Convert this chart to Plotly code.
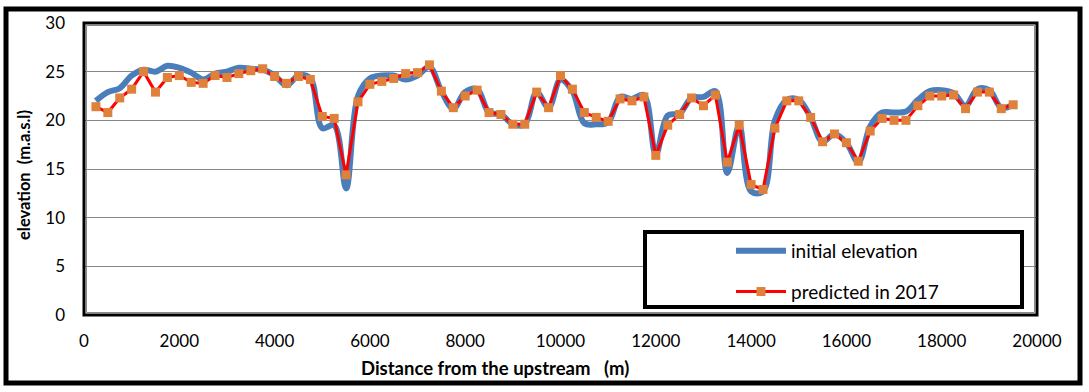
import plotly.graph_objects as go

distance_m = [250, 500, 750, 1000, 1250, 1500, 1750, 2000, 2250, 2500,
              2750, 3000, 3250, 3500, 3750, 4000, 4250, 4500, 4750, 5000,
              5250, 5500, 5750, 6000, 6250, 6500, 6750, 7000, 7250, 7500,
              7750, 8000, 8250, 8500, 8750, 9000, 9250, 9500, 9750, 10000,
              10250, 10500, 10750, 11000, 11250, 11500, 11750, 12000, 12250, 12500,
              12750, 13000, 13250, 13500, 13750, 14000, 14250, 14500, 14750, 15000,
              15250, 15500, 15750, 16000, 16250, 16500, 16750, 17000, 17250, 17500,
              17750, 18000, 18250, 18500, 18750, 19000, 19250, 19500]

initial_elevation = [22.0, 22.9, 23.3, 24.6, 25.2, 25.0, 25.6, 25.4, 24.9, 24.2,
                     24.8, 25.0, 25.4, 25.3, 25.2, 24.6, 23.6, 24.6, 24.3, 19.2,
                     19.5, 13.0, 22.5, 24.3, 24.6, 24.6, 24.2, 24.6, 25.5, 23.0,
                     21.2, 22.9, 23.2, 20.8, 20.6, 19.6, 19.6, 22.9, 21.3, 24.2,
                     23.0, 19.7, 19.6, 19.8, 22.4, 22.2, 22.6, 16.5, 20.5, 20.7,
                     22.3, 22.4, 23.0, 14.6, 19.5, 12.7, 12.7, 20.0, 22.1, 22.1,
                     20.3, 17.8, 18.6, 17.7, 15.7, 19.4, 20.8, 20.8, 20.9, 22.1,
                     23.0, 23.1, 22.8, 21.5, 23.2, 23.1, 21.3, 21.6]

predicted_2017 = [21.4, 20.8, 22.3, 23.2, 25.0, 22.9, 24.4, 24.6, 23.9, 23.8,
                  24.6, 24.4, 24.8, 25.1, 25.3, 24.5, 23.8, 24.5, 24.2, 20.4,
                  20.2, 14.4, 21.9, 23.7, 24.0, 24.3, 24.8, 24.9, 25.7, 23.0,
                  21.3, 22.5, 23.1, 20.8, 20.6, 19.6, 19.6, 22.9, 21.3, 24.6,
                  23.2, 20.8, 20.3, 19.9, 22.2, 22.0, 22.4, 16.4, 19.5, 20.6,
                  22.3, 21.5, 22.6, 15.7, 19.5, 13.4, 12.9, 19.2, 22.0, 22.0,
                  20.3, 17.8, 18.6, 17.7, 15.8, 18.9, 20.2, 20.0, 20.0, 21.5,
                  22.5, 22.5, 22.6, 21.2, 22.9, 22.9, 21.2, 21.6]

x_ticks = [0, 2000, 4000, 6000, 8000, 10000, 12000, 14000, 16000, 18000, 20000]
y_ticks = [0, 5, 10, 15, 20, 25, 30]

FONT = "Lato"
W, H = 1089, 392
L, R, T, B = 84, 1037, 23, 315
pw, ph = R - L, B - T

def px(xp):
    return (xp - L) / pw

def py(yp):
    return (B - yp) / ph

fig = go.Figure()
fig.add_trace(go.Scatter(
    x=distance_m, y=initial_elevation, mode="lines", name="initial elevation",
    line=dict(color="#4a7ebb", width=6, shape="spline", smoothing=1.0),
    legendgroup="a"))
fig.add_trace(go.Scatter(
    x=distance_m, y=predicted_2017, mode="lines+markers", name="predicted in 2017",
    line=dict(color="#ff0000", width=3),
    marker=dict(symbol="square", size=9, color="#e0813b"),
    legendgroup="b"))

shapes = [
    # outer frame
    dict(type="rect", xref="paper", yref="paper", x0=px(6), x1=px(1080), y0=py(383), y1=py(9),
         line=dict(color="black", width=5), layer="above"),
    # plot frame
    dict(type="rect", xref="paper", yref="paper", x0=0, x1=1, y0=0, y1=1,
         line=dict(color="black", width=3), layer="above"),
    dict(type="rect", xref="paper", yref="paper", x0=px(L + 2.5), x1=px(R - 2.5), y0=py(B - 2.5), y1=py(T + 2.5),
         line=dict(color="#8a8a8a", width=1), layer="above"),
    # legend box
    dict(type="rect", xref="paper", yref="paper", x0=px(645), x1=px(1022), y0=py(307), y1=py(232),
         line=dict(color="black", width=4), fillcolor="white", layer="above"),
]

annotations = [
    dict(text="<b>Distance from the upstream   (m)</b>", xref="paper", yref="paper",
         x=px(495), y=py(368), showarrow=False, font=dict(family=FONT, size=18.5, color="black"),
         xanchor="center", yanchor="middle"),
    dict(text="<b>elevation  (m.a.s.l)</b>", xref="paper", yref="paper",
         x=px(24), y=py(175), showarrow=False, textangle=-90,
         font=dict(family=FONT, size=16.5, color="black"), xanchor="center", yanchor="middle"),
]

fig.update_layout(
    width=W, height=H,
    margin=dict(l=L, r=W - R, t=T, b=H - B, pad=0),
    paper_bgcolor="white", plot_bgcolor="white",
    font=dict(family=FONT, size=16, color="black"),
    showlegend=True,
    legend=dict(x=px(731), y=py(232), xanchor="left", yanchor="top",
                bgcolor="rgba(0,0,0,0)", borderwidth=0,
                font=dict(family=FONT, size=19, color="black"),
                tracegroupgap=13, itemwidth=50),
    shapes=shapes, annotations=annotations,
    xaxis=dict(range=[0, 20000], tickvals=x_ticks, ticktext=[str(v) for v in x_ticks],
               showgrid=False, zeroline=False, showline=False, ticks="",
               ticklabelstandoff=14, tickfont=dict(family=FONT, size=17)),
    yaxis=dict(range=[0, 30], tickvals=y_ticks, ticktext=[str(v) for v in y_ticks],
               showgrid=True, gridcolor="#878787", gridwidth=1, zeroline=False,
               showline=False, ticks="", ticklabelstandoff=18,
               tickfont=dict(family=FONT, size=17)),
)

fig.write_html("out.html")
